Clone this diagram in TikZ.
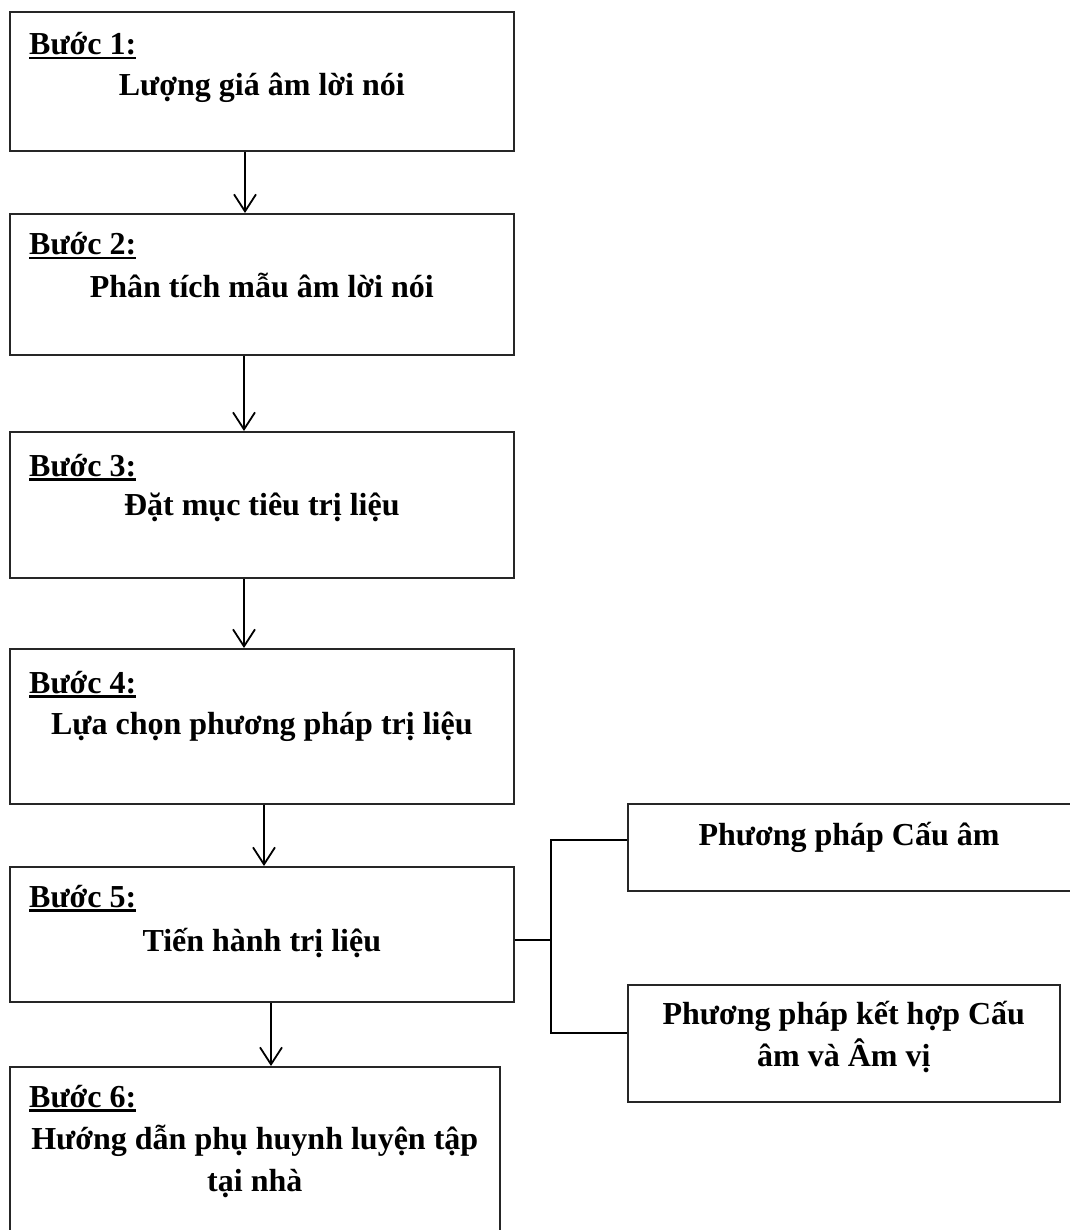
\documentclass[tikz,border=0pt]{standalone}
\usepackage{fontspec}
\setmainfont{Liberation Serif}
\usetikzlibrary{arrows.meta,calc}
% thick underline for the step labels
\newcommand\steplabel[1]{\setbox0\hbox{#1}\rlap{\rule[-4.5pt]{\wd0}{2.6pt}}\box0}
\tikzset{
  box/.style={draw=black!85, line width=1.6pt, rectangle, inner sep=0pt, anchor=north west},
  txt/.style={font=\fontsize{32}{42}\selectfont\bfseries, inner sep=0pt, anchor=base},
  lbl/.style={txt, anchor=base west},
  arr/.style={line width=1.8pt, -{Straight Barb[length=17pt,width=22pt,line width=1.8pt]}},
  ln/.style={line width=1.8pt},
}
\begin{document}
\begin{tikzpicture}[x=1pt,y=-1pt]
\useasboundingbox (0,0) rectangle (1069,1230);

% main column of steps
\node[box, minimum width=504pt, minimum height=139pt] (b1) at (9,11) {};
\node[box, minimum width=504pt, minimum height=141pt] (b2) at (9,213) {};
\node[box, minimum width=504pt, minimum height=146pt] (b3) at (9,431) {};
\node[box, minimum width=504pt, minimum height=155pt] (b4) at (9,648) {};
\node[box, minimum width=504pt, minimum height=135pt] (b5) at (9,866) {};
\node[box, minimum width=490pt, minimum height=190pt] (b6) at (9,1066) {};

% side boxes for the two methods
\node[box, minimum width=460pt, minimum height=87pt] (ma) at (627,803) {};
\node[box, minimum width=432pt, minimum height=117pt] (mb) at (627,984) {};

% step labels
\node[lbl] (l1) at ($(b1.north west)+(20,44)$) {\steplabel{Bước 1:}};
\node[lbl] (l2) at ($(b2.north west)+(20,42)$) {\steplabel{Bước 2:}};
\node[lbl] (l3) at ($(b3.north west)+(20,45)$) {\steplabel{Bước 3:}};
\node[lbl] (l4) at ($(b4.north west)+(20,45)$) {\steplabel{Bước 4:}};
\node[lbl] (l5) at ($(b5.north west)+(20,41)$) {\steplabel{Bước 5:}};
\node[lbl] (l6) at ($(b6.north west)+(20,41)$) {\steplabel{Bước 6:}};

% step titles
\node[txt] (t1) at ($(b1.north)+(0,85)$) {Lượng giá âm lời nói};
\node[txt] (t2) at ($(b2.north)+(0,85)$) {Phân tích mẫu âm lời nói};
\node[txt] (t3) at ($(b3.north)+(0,84)$) {Đặt mục tiêu trị liệu};
\node[txt] (t4) at ($(b4.north)+(0,86)$) {Lựa chọn phương pháp trị liệu};
\node[txt] (t5) at ($(b5.north)+(0,85)$) {Tiến hành trị liệu};
\node[txt] (t6a) at ($(b6.north)+(0,83)$) {Hướng dẫn phụ huynh luyện tập};
\node[txt] (t6b) at ($(b6.north)+(0,125)$) {tại nhà};

% method titles
\node[txt] (ta) at (849,845) {Phương pháp Cấu âm};
\node[txt] (tba) at ($(mb.north)+(0,40)$) {Phương pháp kết hợp Cấu};
\node[txt] (tbb) at ($(mb.north)+(0,82)$) {âm và Âm vị};

% arrows between steps
\draw[arr] (b1.south -| 245,0) -- (b2.north -| 245,0);
\draw[arr] (b2.south -| 244,0) -- (b3.north -| 244,0);
\draw[arr] (b3.south -| 244,0) -- (b4.north -| 244,0);
\draw[arr] (b4.south -| 264,0) -- (b5.north -| 264,0);
\draw[arr] (b5.south -| 271,0) -- (b6.north -| 271,0);

% bracket from step 5 to the methods
\coordinate (fork) at (551,940);
\draw[ln] (b5.east |- fork) -- (fork);
\draw[ln] (ma.west |- 0,840) -- (551,840) -- (551,1033) -- (mb.west |- 0,1033);
\end{tikzpicture}
\end{document}
